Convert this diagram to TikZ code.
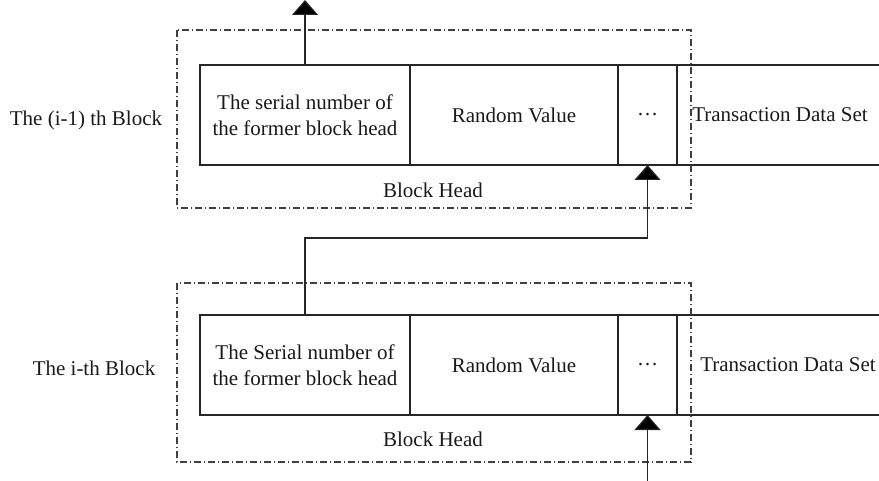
\documentclass[tikz,border=0pt]{standalone}
\usepackage{fontspec}
\setmainfont{Liberation Serif}
\usetikzlibrary{arrows.meta}
\begin{document}
\begin{tikzpicture}[x=1pt,y=-1pt,
  line width=1.2pt, draw=black!85,
  every node/.style={font=\fontsize{21}{26}\selectfont, inner sep=0pt, outer sep=0pt, text=black!90},
  cell/.style={draw, rectangle, minimum height=100pt, align=center, anchor=north west},
  frame/.style={draw=black!75, line width=1.1pt, dash pattern=on 7pt off 3pt on 1pt off 3pt},
  arr/.style={-{Triangle[width=26pt,length=15pt,fill=black]}}
]
\useasboundingbox (0,0) rectangle (879,481);

% ---- block i-1 ----
\node[cell, minimum width=210pt] (a1) at (200,65) {The serial number of\\the former block head};
\node[cell, minimum width=208pt] (b1) at (410,65) {Random Value};
\node[cell, minimum width=59pt] (c1) at (618,65) {\dots};
\node[anchor=center] (d1) at (780,115) {Transaction Data Set};
\draw (c1.north east) -- (879,65);
\draw (c1.south east) -- (879,165);
\node (h1) at (433,190) {Block Head};
\node (l1) at (86,120) {The (i-1) th Block};
\draw[frame] (177,30) rectangle (691,208);

% ---- block i ----
\node[cell, minimum width=210pt] (a2) at (200,315) {The Serial number of\\the former block head};
\node[cell, minimum width=208pt] (b2) at (410,315) {Random Value};
\node[cell, minimum width=59pt] (c2) at (618,315) {\dots};
\node[anchor=center] (d2) at (788,365) {Transaction Data Set};
\draw (c2.north east) -- (879,315);
\draw (c2.south east) -- (879,415);
\node (h2) at (433,439) {Block Head};
\node (l2) at (94,368) {The i-th Block};
\draw[frame] (177,283) rectangle (691,462);

% ---- links ----
\coordinate (top) at (305,0);
\coordinate (j) at (647.5,238);
\coordinate (bot) at (647.5,481);
\draw[arr] (a1.north) -- (top);
\draw[arr] (a2.north) |- (j) -- (c1.south);
\draw[arr] (bot) -- (c2.south);
\end{tikzpicture}
\end{document}
